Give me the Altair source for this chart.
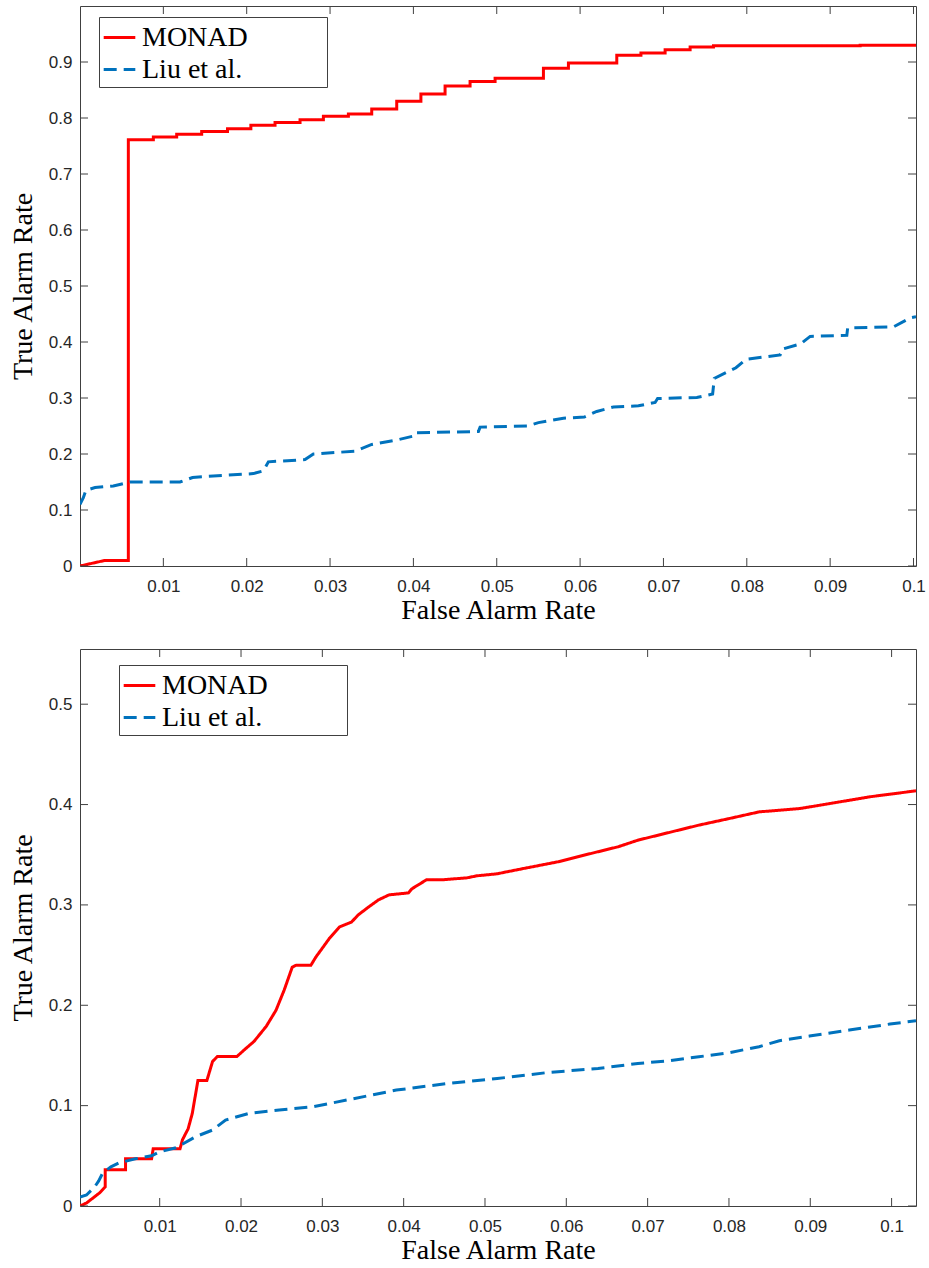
import altair as alt
import pandas as pd

SERIES = ["MONAD", "Liu et al."]
COLORS = ["#FF0000", "#0072BD"]

# ---------- top panel data ----------
# MONAD (step curve): step start x and level
top_monad_x = [0, 0.003, 0.0058, 0.0088, 0.0116, 0.0146, 0.0177, 0.0205, 0.0234, 0.0264,
               0.0292, 0.0322, 0.0350, 0.0380, 0.0409, 0.0438, 0.0468, 0.0498, 0.0556, 0.0586,
               0.0644, 0.0673, 0.0702, 0.0732, 0.0760, 0.0936, 0.1003]
top_monad_y = [0, 0.010, 0.761, 0.766, 0.771, 0.776, 0.781, 0.787, 0.792, 0.797,
               0.803, 0.807, 0.816, 0.830, 0.843, 0.857, 0.865, 0.871, 0.889, 0.898,
               0.912, 0.916, 0.922, 0.927, 0.929, 0.930, 0.930]
top_liu_x = [0, 0.0004, 0.0007, 0.0018, 0.004, 0.006, 0.012, 0.0135, 0.0153, 0.0208,
             0.022, 0.0226, 0.027, 0.028, 0.033, 0.035, 0.038, 0.040, 0.0402, 0.0478,
             0.048, 0.0537, 0.055, 0.058, 0.0605, 0.062, 0.064, 0.067, 0.069, 0.0693,
             0.074, 0.0759, 0.0761, 0.0787, 0.0799, 0.084, 0.0842, 0.0865, 0.0876, 0.092,
             0.0921, 0.0976, 0.0996, 0.1003]
top_liu_y = [0.110, 0.122, 0.135, 0.140, 0.143, 0.150, 0.150, 0.158, 0.160, 0.165,
             0.170, 0.186, 0.190, 0.200, 0.205, 0.217, 0.225, 0.232, 0.238, 0.240,
             0.248, 0.250, 0.256, 0.264, 0.266, 0.276, 0.284, 0.286, 0.292, 0.299,
             0.301, 0.307, 0.335, 0.354, 0.369, 0.377, 0.387, 0.397, 0.410, 0.412,
             0.425, 0.427, 0.443, 0.445]

# ---------- bottom panel data ----------
bot_monad_x = [0.0002, 0.0010, 0.0018, 0.0026, 0.0033, 0.0033, 0.0058, 0.0058, 0.0090, 0.0092,
               0.0125, 0.0128, 0.0135, 0.0140, 0.0147, 0.0158, 0.0165, 0.0171, 0.0195, 0.0206,
               0.0216, 0.0231, 0.0243, 0.0253, 0.0263, 0.0268, 0.0286, 0.0292, 0.0309, 0.0321,
               0.0336, 0.0344, 0.0357, 0.0369, 0.0382, 0.0406, 0.0410, 0.0428, 0.0447, 0.0478,
               0.0490, 0.0515, 0.0527, 0.0552, 0.0590, 0.0614, 0.0639, 0.0664, 0.0688, 0.0738,
               0.0763, 0.0800, 0.0837, 0.0887, 0.0924, 0.0973, 0.1030]
bot_monad_y = [0.000, 0.003, 0.008, 0.013, 0.019, 0.036, 0.036, 0.047, 0.047, 0.057,
               0.057, 0.066, 0.077, 0.092, 0.125, 0.125, 0.144, 0.149, 0.149, 0.157,
               0.164, 0.179, 0.195, 0.215, 0.238, 0.240, 0.240, 0.248, 0.267, 0.278,
               0.283, 0.290, 0.298, 0.305, 0.310, 0.312, 0.316, 0.325, 0.325, 0.327,
               0.329, 0.331, 0.333, 0.337, 0.343, 0.348, 0.353, 0.358, 0.3645, 0.3745,
               0.3795, 0.386, 0.3927, 0.396, 0.401, 0.4077, 0.4137]
bot_liu_x = [0.0002, 0.001, 0.002, 0.0025, 0.003, 0.004, 0.005, 0.007, 0.009, 0.010,
             0.012, 0.0144, 0.0165, 0.0181, 0.021, 0.0247, 0.0289, 0.033, 0.0391, 0.0453,
             0.0515, 0.0577, 0.0639, 0.0688, 0.0726, 0.0763, 0.0800, 0.0837, 0.0862, 0.0899,
             0.0948, 0.0998, 0.1030]
bot_liu_y = [0.009, 0.011, 0.019, 0.025, 0.033, 0.039, 0.043, 0.047, 0.050, 0.054,
             0.058, 0.069, 0.0757, 0.0857, 0.0923, 0.0956, 0.0989, 0.1056, 0.1155, 0.122,
             0.127, 0.133, 0.137, 0.142, 0.1447, 0.1487, 0.1527, 0.1587, 0.1647, 0.1693,
             0.1753, 0.1813, 0.1846]

# ---------- ticks ----------
x_ticks = [0.01, 0.02, 0.03, 0.04, 0.05, 0.06, 0.07, 0.08, 0.09, 0.1]
y_ticks_top = [0, 0.1, 0.2, 0.3, 0.4, 0.5, 0.6, 0.7, 0.8, 0.9]
y_ticks_bot = [0, 0.1, 0.2, 0.3, 0.4, 0.5]


def step_points(xs, ys):
    # first segment is a plain line, then horizontal/vertical steps
    px, py = [xs[0], xs[1]], [ys[0], ys[1]]
    for i in range(2, len(xs)):
        px += [xs[i], xs[i]]
        py += [ys[i - 1], ys[i]]
    return px, py


def frame(series_list):
    rows = []
    for name, xs, ys in series_list:
        for i, (a, b) in enumerate(zip(xs, ys)):
            rows.append({"s": name, "x": a, "y": b, "i": i})
    return pd.DataFrame(rows)


tmx, tmy = step_points(top_monad_x, top_monad_y)
df_top = frame([("MONAD", tmx, tmy), ("Liu et al.", top_liu_x, top_liu_y)])
df_bot = frame([("MONAD", bot_monad_x, bot_monad_y), ("Liu et al.", bot_liu_x, bot_liu_y)])

FRAME_C = "#404040"
TL = 8
LEG_TITLE = "\u2800" * 4
SERIF = "Liberation Serif"
FS = 28


def panel(df, xdom, ydom, yt, W, H, lx, ly, ytp):
    xs = alt.Scale(domain=xdom, nice=False, zero=False)
    ys = alt.Scale(domain=ydom, nice=False, zero=False)
    xax = alt.Axis(values=x_ticks, format="~g", title="False Alarm Rate",
                   labelPadding=12, titlePadding=2)
    yax = alt.Axis(values=yt, format="~g", title="True Alarm Rate",
                   labelPadding=8, titlePadding=ytp)
    leg = alt.Legend(orient="none", legendX=lx, legendY=ly, title=LEG_TITLE,
                     titleOrient="right", titlePadding=0, titleFontSize=26,
                     titleColor="white",
                     fillColor="white", strokeColor=FRAME_C, padding=3,
                     symbolType="stroke", symbolSize=1000, symbolStrokeWidth=3,
                     labelFont=SERIF, labelFontSize=FS, labelColor="black",
                     labelOffset=5, rowPadding=0)
    lines = alt.Chart(df).mark_line(strokeWidth=3, clip=True, strokeJoin="miter").encode(
        x=alt.X("x:Q", scale=xs, axis=xax),
        y=alt.Y("y:Q", scale=ys, axis=yax),
        color=alt.Color("s:N", scale=alt.Scale(domain=SERIES, range=COLORS),
                        title=LEG_TITLE, legend=leg),
        strokeDash=alt.StrokeDash("s:N", scale=alt.Scale(domain=SERIES, range=[[1, 0], [13, 7]]),
                                  title=LEG_TITLE, legend=leg),
        order="i:Q",
    )
    dx = pd.DataFrame({"x": x_ticks})
    dy = pd.DataFrame({"y": yt})
    xb = alt.Chart(dx).mark_rule(color=FRAME_C, strokeWidth=1).encode(
        x=alt.X("x:Q", scale=xs, axis=xax), y=alt.value(H), y2=alt.value(H - TL))
    xtop = alt.Chart(dx).mark_rule(color=FRAME_C, strokeWidth=1).encode(
        x=alt.X("x:Q", scale=xs, axis=xax), y=alt.value(0), y2=alt.value(TL))
    yl = alt.Chart(dy).mark_rule(color=FRAME_C, strokeWidth=1).encode(
        y=alt.Y("y:Q", scale=ys, axis=yax), x=alt.value(0), x2=alt.value(TL))
    yr = alt.Chart(dy).mark_rule(color=FRAME_C, strokeWidth=1).encode(
        y=alt.Y("y:Q", scale=ys, axis=yax), x=alt.value(W - TL), x2=alt.value(W))
    return alt.layer(lines, xb, xtop, yl, yr).properties(width=W, height=H)


top = panel(df_top, [0, 0.1003], [0, 1.0], y_ticks_top, 836, 560, 19, 11, 11)
bot = panel(df_bot, [0.0002, 0.103], [0, 0.555], y_ticks_bot, 836, 557, 39, 16, 11)

chart = alt.concat(top, bot, columns=1, spacing=23).resolve_scale(
    color="independent", strokeDash="independent"
).resolve_legend(
    color="independent", strokeDash="independent"
).properties(
    padding={"left": 8, "top": 5, "right": 0, "bottom": 0},
    background="white",
).configure_view(stroke=FRAME_C, strokeWidth=1).configure_axis(
    domain=False, tickSize=0, grid=False,
    labelFont="Liberation Sans", labelFontSize=17, labelColor="#262626",
    titleFont=SERIF, titleFontSize=FS, titleFontWeight="normal",
    titleColor="black",
)

chart.save("out.html", embed_options={"renderer": "svg", "actions": False})
